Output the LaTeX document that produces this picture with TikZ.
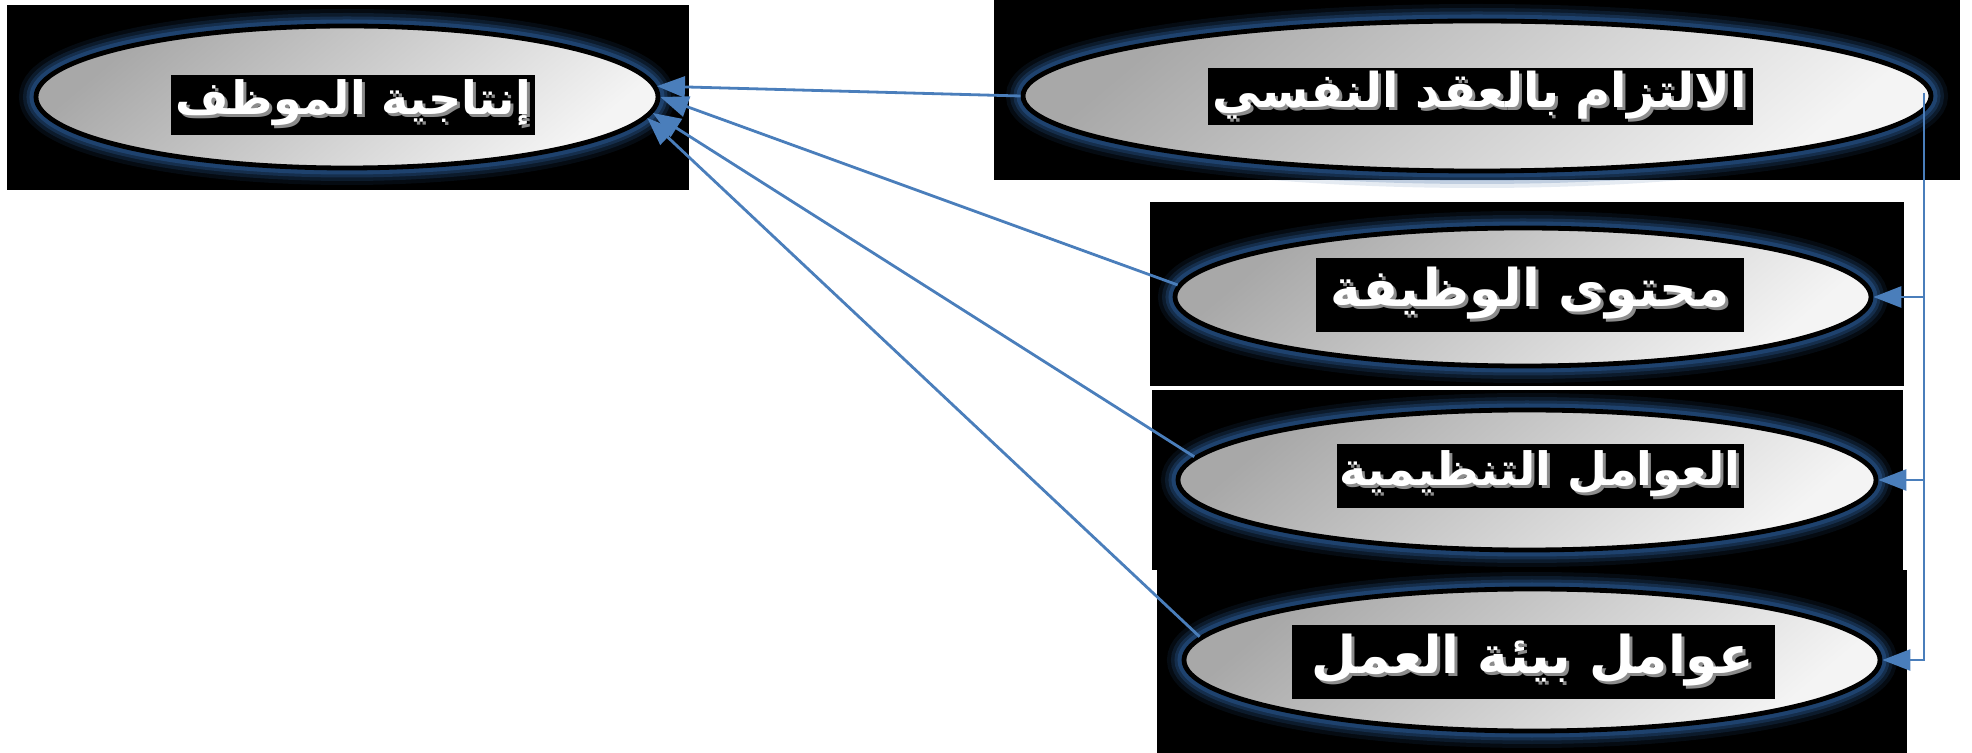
\documentclass[tikz,border=0pt]{standalone}
\usepackage{fontspec}
\TeXXeTstate=1
\newfontfamily\arabicfont[Script=Arabic]{DejaVu Sans}
\usetikzlibrary{shapes.geometric,arrows.meta}
\definecolor{conn}{HTML}{4A7EBB}
\definecolor{glowc}{HTML}{2A5C98}
\definecolor{shA}{HTML}{A8A8A8}
\definecolor{shB}{HTML}{F4F4F4}
\definecolor{shadowc}{HTML}{8C8C8C}
\tikzset{
 panel/.style={fill=black, draw=none},
 bubble/.style={ellipse, inner sep=0pt, draw=black, line width=2.4pt,
   top color=shA, bottom color=shB, shading angle=40,
   preaction={draw=glowc, line width=17pt, opacity=0.12},
   preaction={draw=glowc, line width=13pt, opacity=0.2},
   preaction={draw=glowc, line width=9.5pt, opacity=0.3},
   preaction={draw=glowc, line width=6.5pt, opacity=0.45}},
 labbg/.style={fill=black, inner sep=0pt},
 labtxt/.style={text=white, font=\arabicfont\bfseries, inner sep=0pt},
 labshadow/.style={labtxt, text=shadowc},
 fsA/.style={font=\arabicfont\bfseries\fontsize{23}{28}\selectfont},
 fsB/.style={font=\arabicfont\bfseries\fontsize{24}{28}\selectfont},
 fsC/.style={font=\arabicfont\bfseries\fontsize{26}{30}\selectfont},
 link/.style={draw=conn, line width=1.4pt, -{Triangle[length=14pt,width=10.5pt]}},
}
\begin{document}
\begin{tikzpicture}[x=0.5pt,y=-0.5pt]
\useasboundingbox (0,0) rectangle (1972,753);
% black panels
\fill[panel] (7,5) rectangle (689,190);
\fill[panel] (994,0) rectangle (1960,180);
\fill[panel] (1150,202) rectangle (1904,386);
\fill[panel] (1152,390) rectangle (1903,570);
\fill[panel] (1157,570) rectangle (1907,753);
% ellipses
\node[bubble, minimum width=311pt, minimum height=71pt] (ell1) at (347,97) {};
\node[bubble, minimum width=454pt, minimum height=75pt] (ell2) at (1477,96) {};
\node[bubble, minimum width=348pt, minimum height=69pt] (ell3) at (1523,297) {};
\node[bubble, minimum width=349pt, minimum height=70pt] (ell4) at (1527,480) {};
\node[bubble, minimum width=348pt, minimum height=71pt] (ell5) at (1532,660) {};
% label backgrounds
\node[labbg, minimum width=182pt, minimum height=30pt] (bg1) at (353,105) {};
\node[labbg, minimum width=272.5pt, minimum height=28.5pt] (bg2) at (1480,97) {};
\node[labbg, minimum width=214pt, minimum height=37pt] (bg3) at (1530,295) {};
\node[labbg, minimum width=203.5pt, minimum height=32pt] (bg4) at (1540,476) {};
\node[labbg, minimum width=241.5pt, minimum height=37pt] (bg5) at (1533,662) {};
% label shadows
\node[labshadow, fsA] (lab1s) at (356,106) {\beginR إنتاجية الموظف\endR};
\node[labshadow, fsB] (lab2s) at (1483,98) {\beginR الالتزام بالعقد النفسي\endR};
\node[labshadow, fsC] (lab3s) at (1533,296) {\beginR محتوى الوظيفة\endR};
\node[labshadow, fsA] (lab4s) at (1543,477) {\beginR العوامل التنظيمية\endR};
\node[labshadow, fsC] (lab5s) at (1536,663) {\beginR عوامل بيئة العمل\endR};
% labels
\node[labtxt, fsA] (lab1) at (353,103) {\beginR إنتاجية الموظف\endR};
\node[labtxt, fsB] (lab2) at (1480,95) {\beginR الالتزام بالعقد النفسي\endR};
\node[labtxt, fsC] (lab3) at (1530,293) {\beginR محتوى الوظيفة\endR};
\node[labtxt, fsA] (lab4) at (1540,474) {\beginR العوامل التنظيمية\endR};
\node[labtxt, fsC] (lab5) at (1533,660) {\beginR عوامل بيئة العمل\endR};
% connectors to the outcome
\draw[link] (ell2.west) -- (ell1.2);
\draw[link] (ell3.178) -- (ell1.0);
\draw[link] (ell4.176) -- (ell1.357.5);
\draw[link] (ell5.176) -- (ell1.356);
% bus on the right
\coordinate (bus) at (1924,93);
\draw[link] (bus) |- (ell5.east);
\draw[link] (bus |- ell3.east) -- (ell3.east);
\draw[link] (bus |- ell4.east) -- (ell4.east);
\end{tikzpicture}
\end{document}
